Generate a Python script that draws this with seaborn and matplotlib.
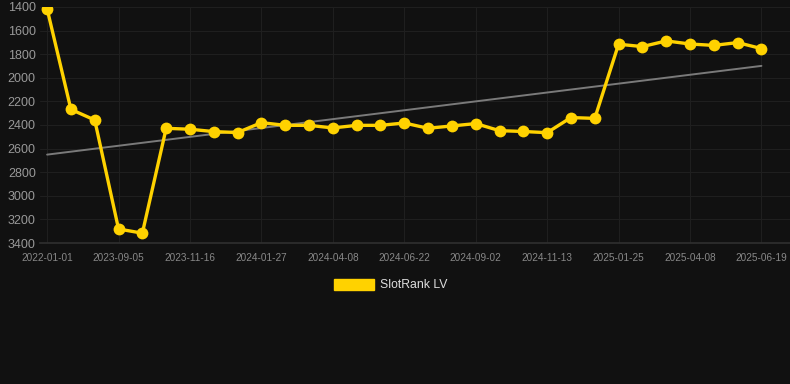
import numpy as np
import pandas as pd
import matplotlib
matplotlib.use("Agg")
import matplotlib.pyplot as plt
import seaborn as sns

tick_labels = ["2022-01-01", "2023-09-05", "2023-11-16", "2024-01-27", "2024-04-08",
               "2024-06-22", "2024-09-02", "2024-11-13", "2025-01-25", "2025-04-08",
               "2025-06-19"]
ranks = [1417, 2268, 2358, 3281, 3316, 2428, 2436, 2456, 2464, 2380,
         2403, 2403, 2425, 2403, 2403, 2383, 2428, 2408, 2388, 2448,
         2455, 2465, 2337, 2344, 1716, 1736, 1688, 1714, 1726, 1702, 1753]
series_name = "SlotRank LV"

idx = np.arange(len(ranks))
df = pd.DataFrame({"idx": idx, "rank": ranks, "series": series_name})

sns.set_theme(style="dark")
plt.rcParams["font.family"] = ["Liberation Sans", "DejaVu Sans"]
bg = "#111111"
fig = plt.figure(figsize=(7.9, 3.84), dpi=100, facecolor=bg)
ax = fig.add_axes([0.0506, 0.367, 0.9494, 0.615])
ax.set_facecolor(bg)

# trend line (least squares)
coef = np.polyfit(idx, ranks, 1)
trend = np.polyval(coef, idx)
ax.plot(idx[[0, -1]], trend[[0, -1]], color="#7a7a7a", lw=1.4, zorder=2)

sns.lineplot(data=df, x="idx", y="rank", ax=ax, color="#FFD200", lw=2.4,
             marker="o", markersize=8.5, markeredgewidth=0, legend=False, zorder=3)

ax.set_ylim(3400, 1400)
ax.set_xlim(-0.3, 31.2)
ax.set_yticks(np.arange(1400, 3401, 200))
ax.set_xticks(idx[::3])
ax.set_xticklabels(tick_labels)
ax.tick_params(axis="y", colors="#999999", labelsize=9, length=0, pad=3)
ax.tick_params(axis="x", colors="#888888", labelsize=7.2, length=0, pad=7)
ax.grid(True, color="#1f1f1f", lw=0.8)
for s in ["top", "right", "left"]:
    ax.spines[s].set_visible(False)
ax.spines["bottom"].set_color("#2e2e2e")
ax.set_xlabel("")
ax.set_ylabel("")

# legend
fig.patches.append(matplotlib.patches.Rectangle((334 / 790, 1 - 290 / 384), 40 / 790, 11 / 384,
                                                transform=fig.transFigure, color="#FFD200"))
fig.text(380 / 790, 1 - 285 / 384, series_name, color="#dddddd", fontsize=8.8, va="center", ha="left")

fig.savefig("out.png", dpi=100, facecolor=bg)
